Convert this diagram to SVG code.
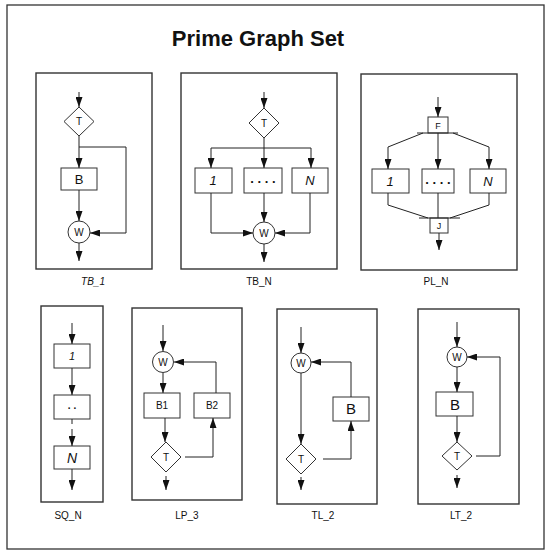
<svg xmlns="http://www.w3.org/2000/svg" width="552" height="554" viewBox="0 0 552 554">
  <defs>
    <marker id="arr" markerUnits="userSpaceOnUse" markerWidth="10" markerHeight="7" refX="10" refY="3.5" orient="auto">
      <path d="M0,0 L10,3.5 L0,7 z" fill="#111"/>
    </marker>
    <style>
      .frame { fill: #fff; stroke: #333; stroke-width: 1.3; }
      .panel { fill: none; stroke: #333; stroke-width: 1.4; }
      .nd { fill: #fff; stroke: #333; stroke-width: 1; }
      .ln { fill: none; stroke: #222; stroke-width: 1; }
      .ar { fill: none; stroke: #222; stroke-width: 1; marker-end: url(#arr); }
      text { font-family: "Liberation Sans", Arial, sans-serif; fill: #111; text-anchor: middle; }
      .title { font-size: 22px; font-weight: bold; }
      .cap { font-size: 10px; }
      .s { font-size: 10px; }
      .f { font-size: 9px; }
      .m { font-size: 10px; }
      .b { font-size: 13px; }
      .bb { font-size: 15px; }
      .it { font-style: italic; }
      .dots { font-size: 13px; font-weight: bold; }
    </style>
  </defs>

  <rect class="frame" x="7" y="5" width="537" height="544"/>
  <text class="title" x="258" y="46">Prime Graph Set</text>

  <!-- panel frames and captions -->
  <g id="panels">
    <rect class="panel" x="36" y="73" width="116" height="196"/>
    <rect class="panel" x="181" y="73" width="156" height="196"/>
    <rect class="panel" x="361" y="74" width="156" height="196"/>
    <rect class="panel" x="41" y="306" width="62" height="196"/>
    <rect class="panel" x="132" y="308" width="110" height="192"/>
    <rect class="panel" x="277" y="309" width="100" height="195"/>
    <rect class="panel" x="418" y="309" width="101" height="195"/>
    <text class="cap it" x="93" y="285" font-size="9">TB_1</text>
    <text class="cap" x="259" y="285">TB_N</text>
    <text class="cap" x="436" y="285">PL_N</text>
    <text class="cap" x="68" y="519">SQ_N</text>
    <text class="cap" x="187" y="519">LP_3</text>
    <text class="cap" x="323" y="519">TL_2</text>
    <text class="cap" x="461" y="519">LT_2</text>
  </g>

  <!-- TB_1 -->
  <g id="tb1-t"><polygon class="nd" points="79,107 94,121.5 79,136 64,121.5"/><text class="s" x="79" y="125">T</text></g>
  <g id="tb1-b"><rect class="nd" x="61" y="168" width="36" height="22"/><text class="b" x="79" y="184">B</text></g>
  <g id="tb1-w"><circle class="nd" cx="79" cy="232" r="11"/><text class="m" x="79" y="236">W</text></g>

  <!-- TB_N -->
  <g id="tbn-t"><polygon class="nd" points="264,108 279,123 264,138 249,123"/><text class="s" x="264" y="127">T</text></g>
  <g id="tbn-1"><rect class="nd" x="195" y="168" width="37" height="25"/><text class="b it" x="213" y="185">1</text></g>
  <g id="tbn-d"><rect class="nd" x="244" y="168" width="38" height="25"/><text class="dots" x="263" y="183">. . . .</text></g>
  <g id="tbn-n"><rect class="nd" x="292" y="168" width="36" height="25"/><text class="b it" x="310" y="185">N</text></g>
  <g id="tbn-w"><circle class="nd" cx="264" cy="233" r="11"/><text class="m" x="264" y="237">W</text></g>

  <!-- PL_N -->
  <g id="pln-f"><rect class="nd" x="428" y="117" width="20" height="16"/><text class="f" x="438" y="129">F</text></g>
  <g id="pln-1"><rect class="nd" x="372" y="169" width="37" height="24"/><text class="b it" x="390" y="186">1</text></g>
  <g id="pln-d"><rect class="nd" x="422" y="169" width="32" height="24"/><text class="dots" x="438" y="184">. . . .</text></g>
  <g id="pln-n"><rect class="nd" x="470" y="169" width="36" height="24"/><text class="b it" x="488" y="186">N</text></g>
  <g id="pln-j"><rect class="nd" x="430" y="218" width="18" height="15"/><text class="f" x="439" y="229">J</text></g>

  <!-- SQ_N -->
  <g id="sq-1"><rect class="nd" x="54" y="344" width="36" height="24"/><text class="it" x="72" y="360" font-size="11">1</text></g>
  <g id="sq-d"><rect class="nd" x="54" y="395" width="36" height="24"/><text class="m" x="72" y="409" font-weight="bold">. .</text></g>
  <g id="sq-n"><rect class="nd" x="54" y="446" width="36" height="23"/><text class="it" x="72" y="463" font-size="14">N</text></g>

  <!-- LP_3 -->
  <g id="lp-w"><circle class="nd" cx="163" cy="362" r="10.5"/><text class="m" x="163" y="366">W</text></g>
  <g id="lp-b1"><rect class="nd" x="144" y="393" width="36" height="25"/><text class="m" x="162" y="409">B1</text></g>
  <g id="lp-b2"><rect class="nd" x="194" y="393" width="36" height="25"/><text class="m" x="212" y="409">B2</text></g>
  <g id="lp-t"><polygon class="nd" points="166,442 181,457 166,472 151,457"/><text class="s" x="166" y="461">T</text></g>

  <!-- TL_2 -->
  <g id="tl-w"><circle class="nd" cx="301" cy="363" r="10"/><text class="m" x="301" y="367">W</text></g>
  <g id="tl-b"><rect class="nd" x="333" y="397" width="36" height="24"/><text class="bb" x="351" y="414">B</text></g>
  <g id="tl-t"><polygon class="nd" points="301,444 316,459 301,474 286,459"/><text class="s" x="301" y="463">T</text></g>

  <!-- LT_2 -->
  <g id="lt-w"><circle class="nd" cx="457" cy="357" r="10"/><text class="m" x="457" y="361">W</text></g>
  <g id="lt-b"><rect class="nd" x="436" y="392" width="37" height="24"/><text class="bb" x="455" y="410">B</text></g>
  <g id="lt-t"><polygon class="nd" points="457,442 472,456 457,470 442,456"/><text class="s" x="457" y="460">T</text></g>

  <!-- connectors -->
  <g id="connectors">
    <!-- TB_1 -->
    <line class="ar" x1="79" y1="92" x2="79" y2="107"/>
    <line class="ar" x1="79" y1="136" x2="79" y2="168"/>
    <polyline class="ar" points="79,147 126,147 126,233 90,233"/>
    <line class="ar" x1="79" y1="190" x2="79" y2="221"/>
    <line class="ar" x1="79" y1="243" x2="79" y2="261"/>

    <!-- TB_N -->
    <line class="ar" x1="264" y1="92" x2="264" y2="108"/>
    <line class="ar" x1="264" y1="138" x2="264" y2="168"/>
    <line class="ln" x1="211" y1="148" x2="311" y2="148"/>
    <line class="ar" x1="211" y1="148" x2="211" y2="168"/>
    <line class="ar" x1="311" y1="148" x2="311" y2="168"/>
    <polyline class="ar" points="211,193 211,233 253,233"/>
    <polyline class="ar" points="310,193 310,233 275,233"/>
    <line class="ar" x1="264" y1="193" x2="264" y2="222"/>
    <line class="ar" x1="264" y1="244" x2="264" y2="262"/>

    <!-- PL_N -->
    <line class="ar" x1="438" y1="97" x2="438" y2="117"/>
    <line class="ln" x1="417" y1="133" x2="458" y2="133"/>
    <polyline class="ar" points="423,133 388,147 388,169"/>
    <line class="ar" x1="438" y1="133" x2="438" y2="169"/>
    <polyline class="ar" points="453,133 489,147 489,169"/>
    <polyline class="ln" points="388,193 388,205 428,218"/>
    <line class="ln" x1="438" y1="193" x2="438" y2="218"/>
    <polyline class="ln" points="489,193 489,205 450,218"/>
    <line class="ln" x1="419" y1="218" x2="460" y2="218"/>
    <line class="ar" x1="439" y1="233" x2="439" y2="250"/>

    <!-- SQ_N -->
    <line class="ar" x1="72" y1="323" x2="72" y2="344"/>
    <line class="ar" x1="72" y1="368" x2="72" y2="395"/>
    <line class="ln" x1="72" y1="419" x2="72" y2="424"/>
    <line class="ar" x1="72" y1="429" x2="72" y2="446"/>
    <line class="ar" x1="72" y1="469" x2="72" y2="490"/>

    <!-- LP_3 -->
    <line class="ar" x1="163" y1="325" x2="163" y2="351"/>
    <line class="ar" x1="163" y1="373" x2="163" y2="393"/>
    <line class="ar" x1="165" y1="418" x2="165" y2="442"/>
    <polyline class="ar" points="185,457 213,457 213,418"/>
    <polyline class="ar" points="216,393 216,362 174,362"/>
    <line class="ar" x1="166" y1="476" x2="166" y2="490"/>

    <!-- TL_2 -->
    <line class="ar" x1="301" y1="327" x2="301" y2="353"/>
    <line class="ar" x1="301" y1="373" x2="301" y2="444"/>
    <polyline class="ar" points="323,459 351,459 351,421"/>
    <polyline class="ar" points="351,397 351,362 311,362"/>
    <line class="ar" x1="301" y1="477" x2="301" y2="490"/>

    <!-- LT_2 -->
    <line class="ar" x1="457" y1="322" x2="457" y2="347"/>
    <line class="ar" x1="457" y1="367" x2="457" y2="392"/>
    <line class="ar" x1="457" y1="416" x2="457" y2="442"/>
    <polyline class="ar" points="476,456 500,456 500,357 467,357"/>
    <line class="ar" x1="457" y1="475" x2="457" y2="488"/>
  </g>
</svg>
